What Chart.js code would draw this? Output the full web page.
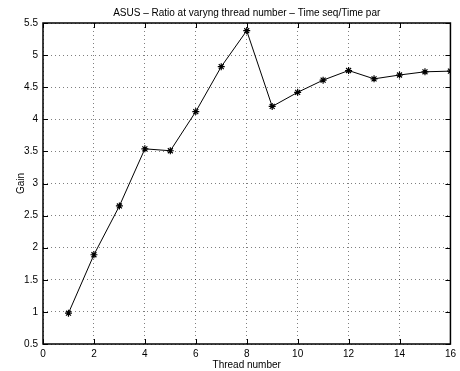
<!DOCTYPE html>
<html>
<head>
<meta charset="utf-8">
<script src="https://cdn.jsdelivr.net/npm/chart.js@4.4.0/dist/chart.umd.min.js"></script>
<style>
  html, body { margin: 0; padding: 0; background: #fff; }
  #wrap { width: 460px; height: 371px; }
</style>
</head>
<body>
<div id="wrap"><canvas id="chart" width="460" height="371"></canvas></div>
<script>
// thread counts and measured speedup (seq time / par time)
const threads = [1, 2, 3, 4, 5, 6, 7, 8, 9, 10, 11, 12, 13, 14, 15, 16];
const gain = [0.98, 1.89, 2.65, 3.54, 3.51, 4.12, 4.82, 5.38, 4.20, 4.42, 4.61, 4.76, 4.63, 4.69, 4.74, 4.75];

const xTicks = [0, 2, 4, 6, 8, 10, 12, 14, 16];
const yTicks = [0.5, 1, 1.5, 2, 2.5, 3, 3.5, 4, 4.5, 5, 5.5];

const FONT = "'Liberation Sans', Arial, Helvetica, sans-serif";

// matlab style box with inward ticks on every side
const boxPlugin = {
    id: 'matlabBox',
    afterDraw(chart) {
        const { ctx, chartArea: a, scales } = chart;
        const len = 5;
        ctx.save();
        ctx.strokeStyle = '#000';
        ctx.lineWidth = 1;
        ctx.beginPath();
        xTicks.forEach(v => {
            const px = Math.round(scales.x.getPixelForValue(v)) + 0.5;
            ctx.moveTo(px, a.bottom); ctx.lineTo(px, a.bottom - len);
            ctx.moveTo(px, a.top); ctx.lineTo(px, a.top + len);
        });
        yTicks.forEach(v => {
            const py = Math.round(scales.y.getPixelForValue(v)) + 0.5;
            ctx.moveTo(a.left, py); ctx.lineTo(a.left + len, py);
            ctx.moveTo(a.right, py); ctx.lineTo(a.right - len, py);
        });
        ctx.stroke();
        ctx.lineWidth = 1.5;
        ctx.strokeRect(a.left, a.top, a.right - a.left, a.bottom - a.top);
        ctx.restore();
    }
};

const points = threads.map((t, i) => ({ x: t, y: gain[i] }));

new Chart(document.getElementById('chart'), {
    type: 'line',
    data: {
        datasets: [{
            label: 'Gain',
            data: points,
            borderColor: '#000',
            borderWidth: 1,
            pointStyle: 'star',
            pointRadius: 3.5,
            pointBorderColor: '#000',
            pointBackgroundColor: '#000',
            pointBorderWidth: 1.2,
            tension: 0,
            fill: false
        }]
    },
    options: {
        responsive: false,
        animation: false,
        devicePixelRatio: 1,
        layout: { padding: { left: 15, right: 8, top: 0, bottom: 0 } },
        plugins: {
            legend: { display: false },
            tooltip: { enabled: false },
            title: {
                display: true,
                fullSize: false,
                text: 'ASUS \u2013 Ratio at varyng thread number \u2013 Time seq/Time par',
                color: '#000',
                font: { family: FONT, size: 10, weight: 'normal', lineHeight: 1.2 },
                padding: { top: 7, bottom: 4 }
            }
        },
        scales: {
            x: {
                type: 'linear',
                min: 0,
                max: 16,
                afterFit: s => { s.height = 27; },
                afterBuildTicks: s => { s.ticks = xTicks.map(v => ({ value: v })); },
                ticks: { color: '#000', font: { family: FONT, size: 10 }, padding: 4, maxRotation: 0 },
                grid: { color: 'rgba(0,0,0,0.5)', lineWidth: 1, drawTicks: false },
                border: { display: false, dash: [1, 3] },
                title: { display: true, text: 'Thread number', color: '#000', font: { family: FONT, size: 10 }, padding: { top: 0, bottom: 0 } }
            },
            y: {
                min: 0.5,
                max: 5.5,
                afterFit: s => { s.width = 28; },
                afterBuildTicks: s => { s.ticks = yTicks.map(v => ({ value: v })); },
                ticks: { color: '#000', font: { family: FONT, size: 10 }, padding: 5, callback: v => String(v) },
                grid: { color: 'rgba(0,0,0,0.5)', lineWidth: 1, drawTicks: false },
                border: { display: false, dash: [1, 3] },
                title: { display: true, text: 'Gain', color: '#000', font: { family: FONT, size: 10 }, padding: { top: 0, bottom: 0 } }
            }
        }
    },
    plugins: [boxPlugin]
});
</script>
</body>
</html>
